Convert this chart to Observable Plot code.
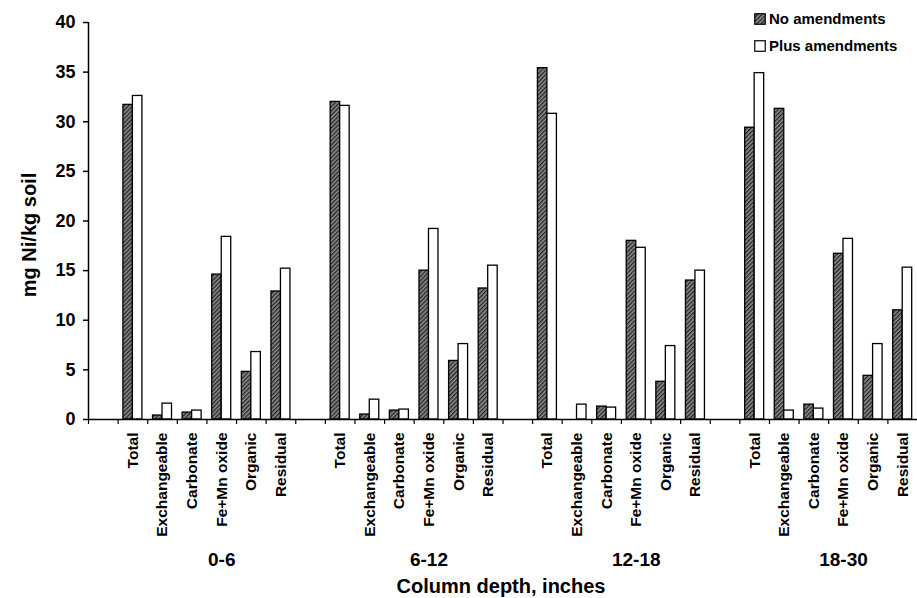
<!DOCTYPE html>
<html>
<head>
<meta charset="utf-8">
<script src="https://cdn.jsdelivr.net/npm/d3@7"></script>
<script src="https://cdn.jsdelivr.net/npm/@observablehq/plot@0.6"></script>
<style>
  body { margin: 0; background: #fff; }
  #chart { position: relative; width: 917px; height: 598px; font-family: "Liberation Sans", Arial, sans-serif; font-weight: bold; }
  #legend { position: absolute; left: 754px; top: 5px; font-size: 15px; color: #000; }
  #legend .row { display: flex; align-items: center; height: 27px; }
  #legend svg { margin-right: 3px; }
</style>
</head>
<body>
<svg width="0" height="0" style="position:absolute">
  <defs>
    <pattern id="hatch" width="3" height="3" patternUnits="userSpaceOnUse" patternTransform="rotate(45)">
      <rect width="3" height="3" fill="#8e8e8e"></rect>
      <rect width="1.4" height="3" fill="#262626"></rect>
    </pattern>
  </defs>
</svg>
<div id="chart">
  <div id="legend">
    <div class="row"><svg width="12" height="12"><rect x="0.75" y="0.75" width="10.5" height="10.5" fill="url(#hatch)" stroke="#000" stroke-width="1.2"></rect></svg>No amendments</div>
    <div class="row"><svg width="12" height="12"><rect x="0.75" y="0.75" width="10.5" height="10.5" fill="#fff" stroke="#000" stroke-width="1.2"></rect></svg>Plus amendments</div>
  </div>
</div>
<script>
// Column depth groups (inches) and Ni fractions within each group
const depths = ["0-6", "6-12", "12-18", "18-30"];
const fractions = ["Total", "Exchangeable", "Carbonate", "Fe+Mn oxide", "Organic", "Residual"];

// mg Ni/kg soil, one row per depth, columns follow `fractions`
const noAmendments = [
  [31.7, 0.4, 0.7, 14.6, 4.8, 12.9],
  [32.0, 0.5, 0.9, 15.0, 5.9, 13.2],
  [35.4, 0.0, 1.3, 18.0, 3.8, 14.0],
  [29.4, 31.3, 1.5, 16.7, 4.4, 11.0]
];
const plusAmendments = [
  [32.6, 1.6, 0.9, 18.4, 6.8, 15.2],
  [31.6, 2.0, 1.0, 19.2, 7.6, 15.5],
  [30.8, 1.5, 1.2, 17.3, 7.4, 15.0],
  [34.9, 0.9, 1.1, 18.2, 7.6, 15.3]
];

const yTicks = [0, 5, 10, 15, 20, 25, 30, 35, 40];

// Each depth gets an empty leading slot followed by its six fractions
const key = (d, f) => `${d}|${f}`;
const slots = depths.flatMap(d => [key(d, ""), ...fractions.map(f => key(d, f))]);
const rows = depths.flatMap((d, i) => fractions.map((f, j) => ({
  slot: key(d, f),
  no: noAmendments[i][j],
  plus: plusAmendments[i][j]
})));

const width = 917, height = 598;
const marginLeft = 88, marginRight = 0, marginTop = 22, marginBottom = 179;
const step = (width - marginLeft - marginRight) / slots.length;
const barW = 9.5;
const side = (step - 2 * barW) / 2;

const chart = Plot.plot({
  width, height, marginLeft, marginRight, marginTop, marginBottom,
  style: { fontFamily: "'Liberation Sans', Arial, sans-serif", fontWeight: "bold", color: "#000", background: "#fff", overflow: "visible" },
  x: { type: "band", domain: slots, padding: 0, round: false },
  y: { domain: [0, 40] },
  marks: [
    Plot.barY(rows, { x: "slot", y: "no", fill: "url(#hatch)", stroke: "#000", strokeWidth: 1.3, insetLeft: side, insetRight: side + barW }),
    Plot.barY(rows, { x: "slot", y: "plus", fill: "#fff", stroke: "#000", strokeWidth: 1.3, insetLeft: side + barW, insetRight: side }),
    // axis lines
    Plot.ruleY([0], { stroke: "#000", strokeWidth: 1.5 }),
    Plot.ruleX([slots[0]], { y1: 0, y2: 40, dx: -step / 2, stroke: "#000", strokeWidth: 1.5 }),
    // category boundary ticks below the baseline
    Plot.ruleX(slots, { y1: 0, y2: 0, insetBottom: -5, dx: -step / 2, stroke: "#000", strokeWidth: 1.2 }),
    Plot.axisY({ ticks: yTicks, tickSize: 5, tickPadding: 8, fontSize: 18, label: null, strokeWidth: 1.5 }),
    Plot.axisX({ tickSize: 0, tickPadding: 13, tickRotate: -90, fontSize: 15.5, label: null, tickFormat: d => d.split("|")[1] }),
    // depth group labels
    Plot.text(depths, { x: d => key(d, "Fe+Mn oxide"), frameAnchor: "bottom", dy: 146, fontSize: 19, fontWeight: "bold", text: d => d }),
    // axis titles
    Plot.text(["Column depth, inches"], { frameAnchor: "bottom", dy: 173, dx: -2, fontSize: 20, fontWeight: "bold" }),
    Plot.text(["mg Ni/kg soil"], { frameAnchor: "left", textAnchor: "middle", rotate: -90, dx: -59, dy: 14, fontSize: 20, fontWeight: "bold" })
  ]
});

document.getElementById("chart").prepend(chart);
</script>
</body>
</html>
